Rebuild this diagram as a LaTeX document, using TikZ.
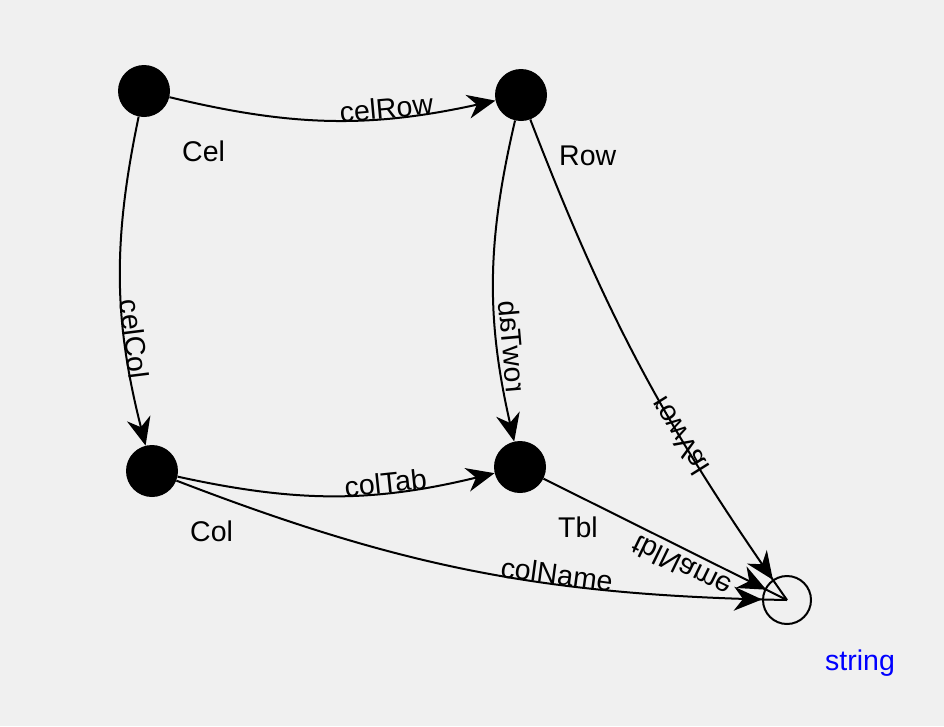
\documentclass[tikz,border=0pt]{standalone}
\usepackage{graphicx}
\usepackage{fontspec}
\setmainfont{Liberation Sans}
\usetikzlibrary{arrows.meta,decorations.markings}
\definecolor{bgcol}{RGB}{240,240,240}
\newcommand{\mirr}[1]{\scalebox{1}[-1]{#1}}
\begin{document}
\begin{tikzpicture}[x=1pt,y=-1pt,
  vertex/.style={circle,fill=black,minimum size=52pt,inner sep=0pt},
  sink/.style={circle,draw=black,line width=2pt,minimum size=48pt,inner sep=0pt},
  vname/.style={anchor=base west,inner sep=0pt},
  elabel/.style={anchor=base,inner sep=0pt},
  edge/.style={line width=2pt,-{Stealth[length=28pt,width=24pt,inset=9pt]}},
  tostr/.style={line width=2pt,postaction={decorate},
    decoration={markings,mark=at position #1 with {\arrow{Stealth[length=28pt,width=24pt,inset=9pt]}}}},
  every node/.append style={font=\fontsize{28.5}{30}\selectfont}]
\fill[bgcol] (0,0) rectangle (944,726);
\useasboundingbox (0,0) rectangle (944,726);
\node[vertex] (cel) at (144,91) {};
\node[vertex] (row) at (521,95) {};
\node[vertex] (col) at (152,471) {};
\node[vertex] (tbl) at (520,467) {};
\node[sink] (str) at (787,600) {};
\node[vname] (celname) at ([shift={(38,70)}]cel.center) {Cel};
\node[vname] (rowname) at ([shift={(38,70)}]row.center) {Row};
\node[vname] (colname) at ([shift={(38,70)}]col.center) {Col};
\node[vname] (tblname) at ([shift={(38,70)}]tbl.center) {Tbl};
\node[vname,text={rgb,255:red,0;green,0;blue,255}] (strname) at ([shift={(38,70)}]str.center) {string};
\draw[edge] (cel) to[bend right=13] node[elabel,sloped,pos=0.68] {celRow} (row);
\draw[edge] (cel) to[bend right=13] node[elabel,sloped,pos=0.69] {celCol} (col);
\draw[edge] (row) to[bend right=13] node[elabel,xshift=5pt,rotate=95,pos=0.72] {\mirr{rowTab}} (tbl);
\draw[edge] (col) to[bend right=13] node[elabel,sloped,pos=0.67] {colTab} (tbl);
\draw[tostr=0.955] (row) to[bend right=7] node[elabel,xshift=12pt,rotate=-58,pos=0.64] {\mirr{rowVal}} (str.center);
\draw[tostr=0.96] (col) to[bend right=10] node[elabel,sloped,pos=0.64] {colName} (str.center);
\draw[tostr=0.915] (tbl) -- node[elabel,yshift=-8pt,rotate=-26,pos=0.585] {\mirr{tblName}} (str.center);
\end{tikzpicture}
\end{document}
